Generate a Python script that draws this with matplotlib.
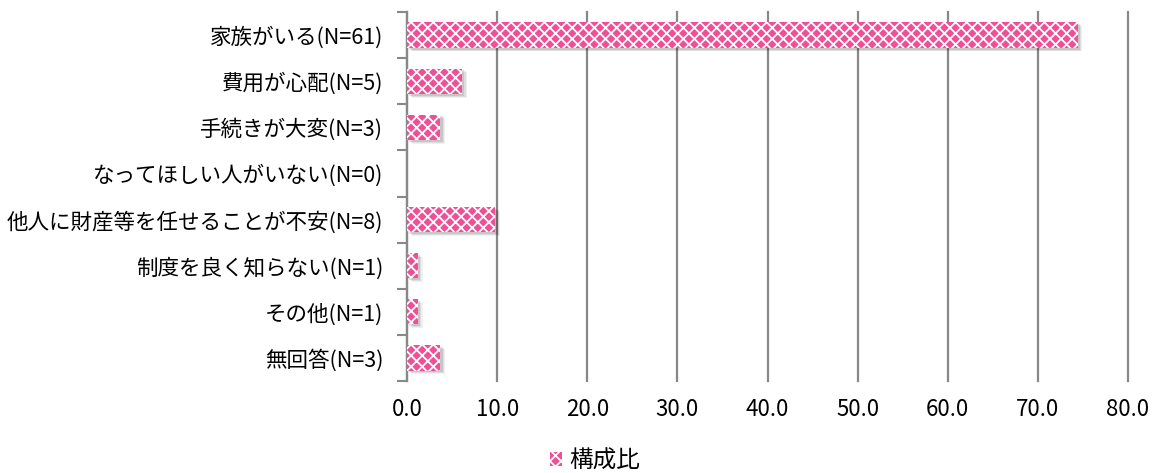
import matplotlib
matplotlib.use("Agg")
import matplotlib.pyplot as plt
import numpy as np

plt.rcParams['font.family'] = ['Noto Sans CJK JP', 'DejaVu Sans']
plt.rcParams['hatch.linewidth'] = 1.3

# données
categories = ['家族がいる(N=61)', '費用が心配(N=5)', '手続きが大変(N=3)',
              'なってほしい人がいない(N=0)', '他人に財産等を任せることが不安(N=8)',
              '制度を良く知らない(N=1)', 'その他(N=1)', '無回答(N=3)']
valeurs = [74.4, 6.1, 3.7, 0.0, 9.8, 1.2, 1.2, 3.7]
ticks_x = [0, 10, 20, 30, 40, 50, 60, 70, 80]

fig = plt.figure(figsize=(11.59, 4.73), dpi=100)
ax = fig.add_axes([407 / 1159, 1 - 381 / 473, (1128 - 407) / 1159, 369 / 473])

y = np.arange(len(categories))
h = 0.55

# ombre douce
for k, a in enumerate([0.10, 0.08, 0.06]):
    ax.barh(y + 0.04 + 0.02 * k, valeurs, height=h, left=0.25 + 0.15 * k,
            color='black', alpha=a, linewidth=0, zorder=2)
ax.barh(y, valeurs, height=h, color='#f04e96', edgecolor='white',
        hatch='xxx', linewidth=0, zorder=3, label='構成比')

ax.set_xlim(0, 80)
ax.set_ylim(len(categories) - 0.5, -0.5)
ax.set_xticks(ticks_x)
ax.set_xticklabels([f'{v:.1f}' for v in ticks_x], fontsize=16)
ax.set_yticks(y)
ax.set_yticklabels(categories, fontsize=15.5)
ax.set_yticks(np.arange(-0.5, len(categories), 1), minor=True)
ax.tick_params(axis='y', which='major', length=0, pad=17)
ax.tick_params(axis='y', which='minor', length=7, width=1.5, color='#888888')
ax.tick_params(axis='x', length=0, pad=12)

ax.grid(axis='x', color='#888888', linewidth=1.6, zorder=0)
for gl in ax.get_xgridlines():
    gl.set_clip_on(False)
for s in ['top', 'right', 'bottom']:
    ax.spines[s].set_visible(False)
ax.spines['left'].set_color('#888888')
ax.spines['left'].set_linewidth(1.6)

fig.legend(*ax.get_legend_handles_labels(), loc='center', bbox_to_anchor=(595 / 1159, 1 - 461 / 473),
           frameon=False, fontsize=17, handlelength=0.5, handleheight=0.5, handletextpad=0.3)

plt.savefig('out.png', dpi=100)
